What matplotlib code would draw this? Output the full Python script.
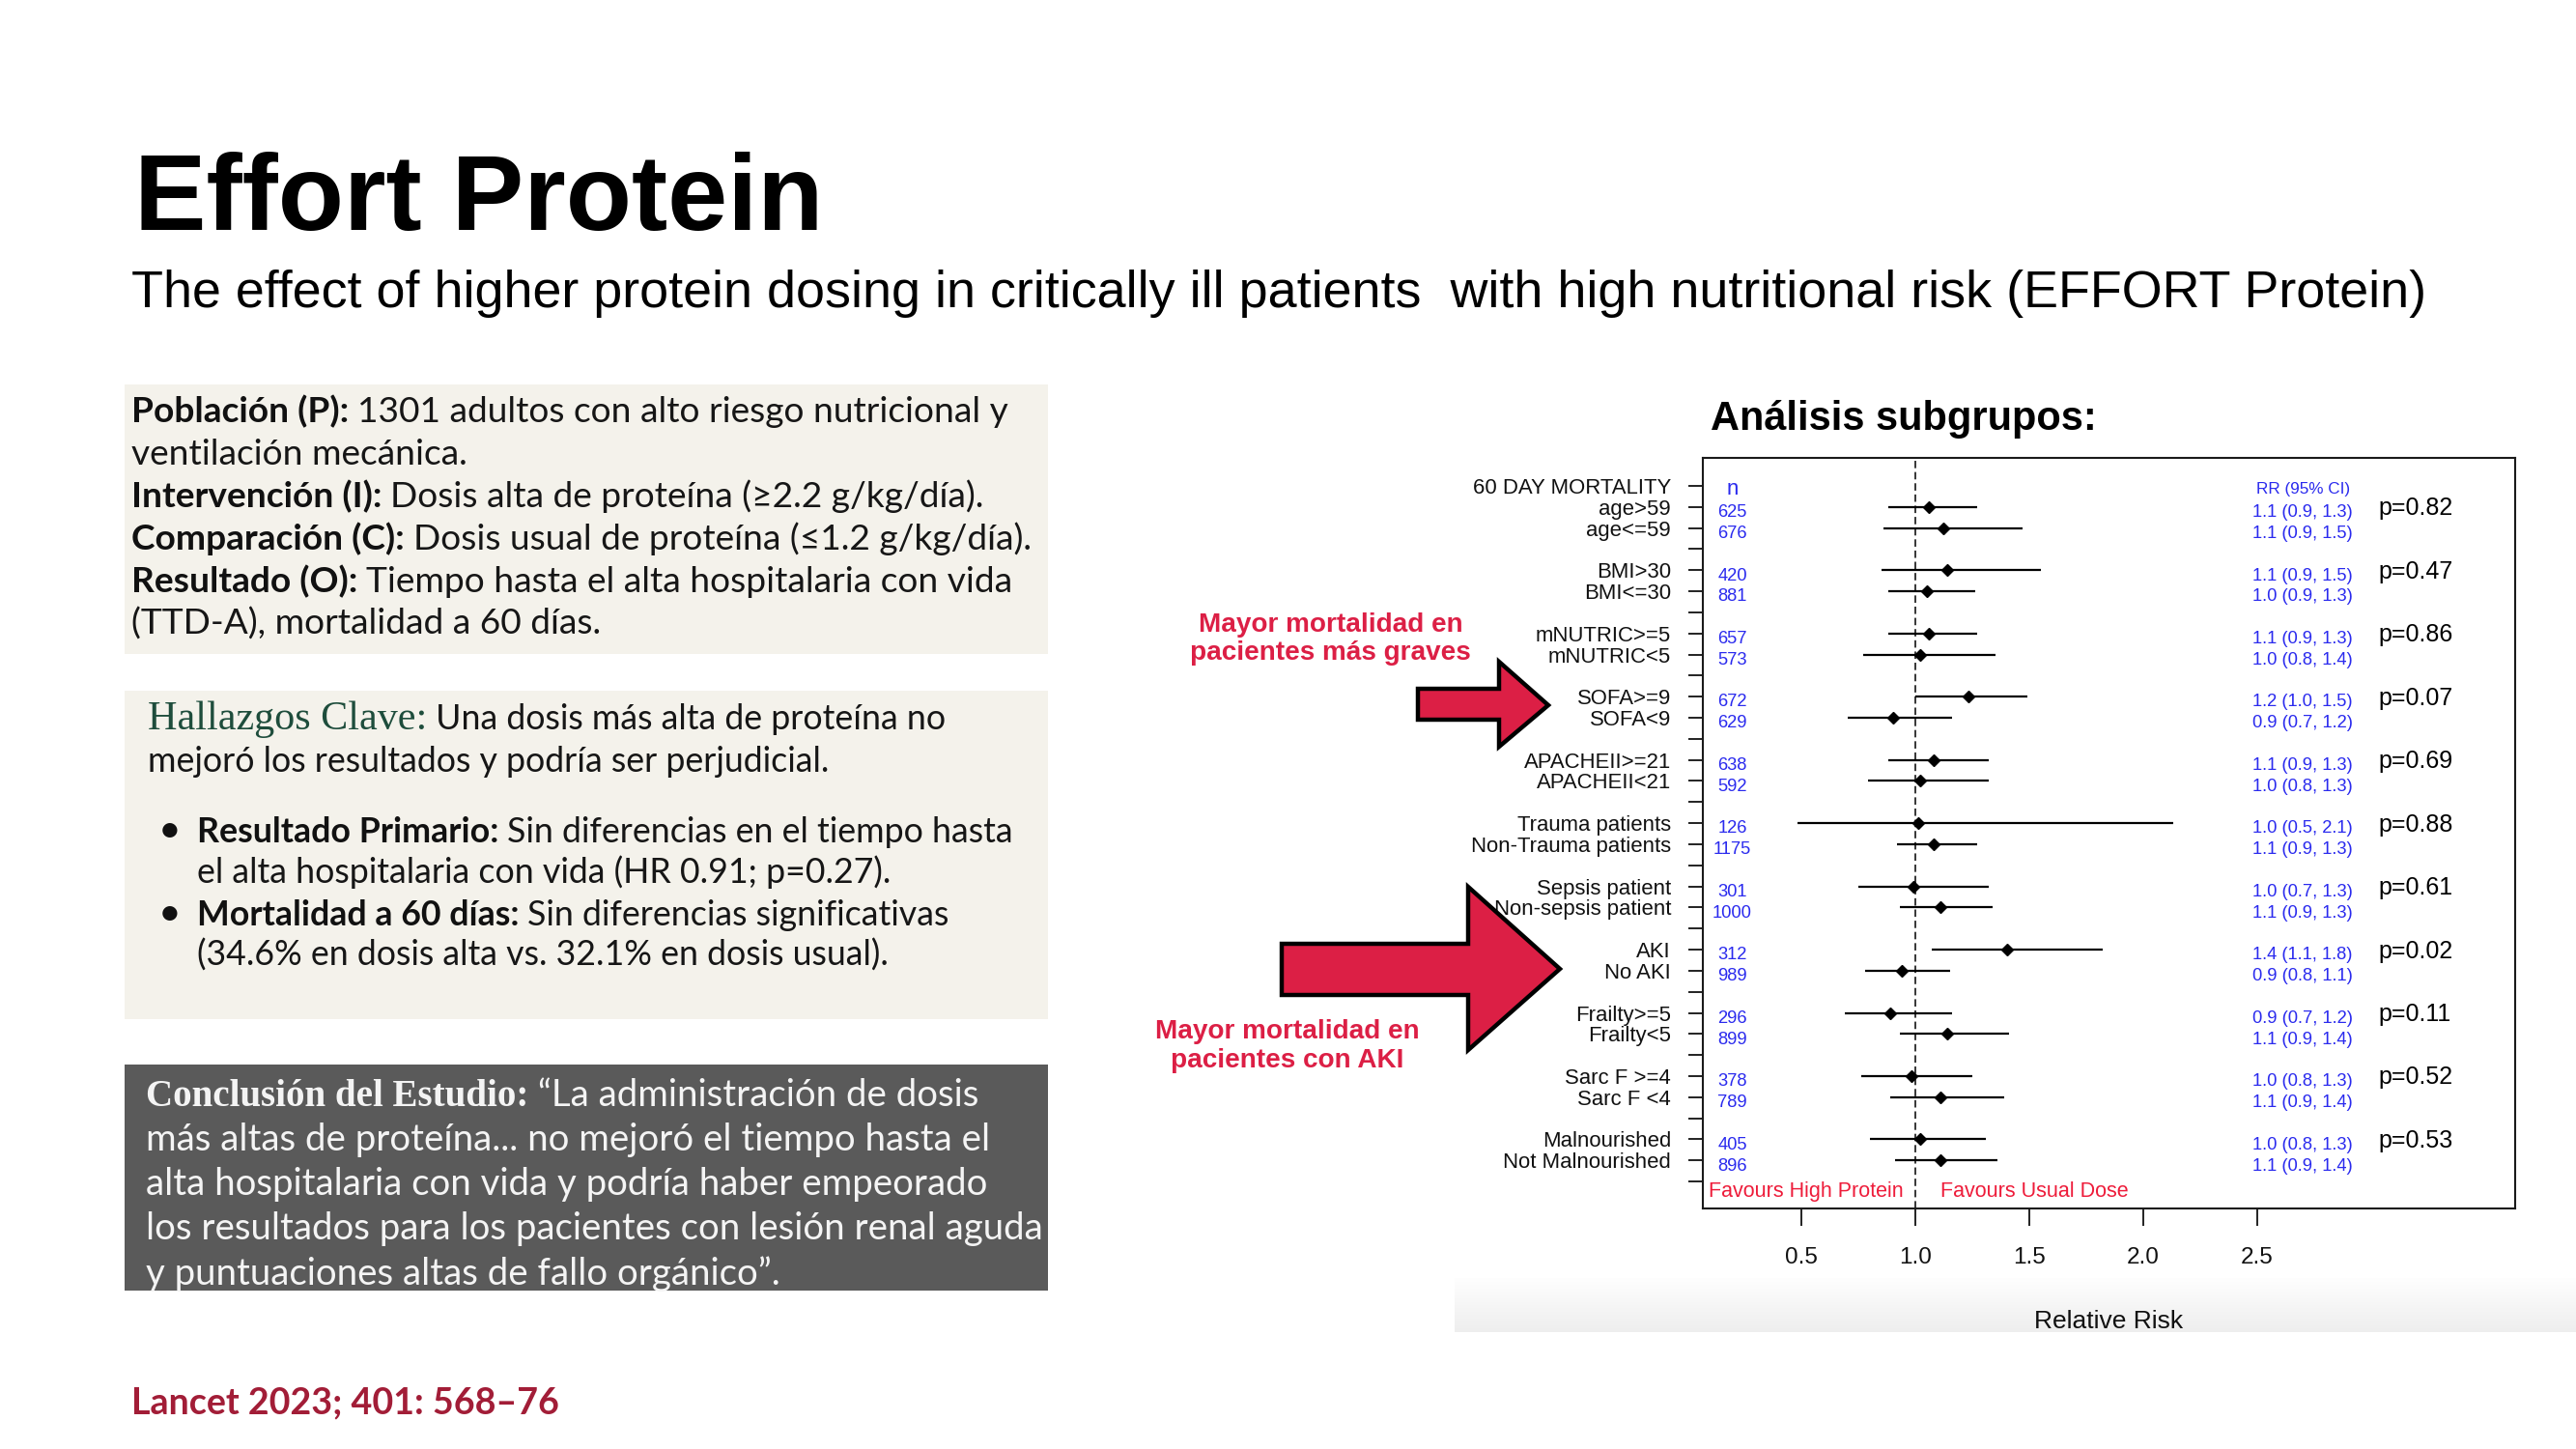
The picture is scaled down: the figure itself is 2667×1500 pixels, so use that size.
import matplotlib
matplotlib.use('Agg')
import matplotlib.pyplot as plt
import numpy as np
from matplotlib.patches import Rectangle, Polygon
from matplotlib.colors import LinearSegmentedColormap

# ---------------- data ----------------
header_label = "60 DAY MORTALITY"
subgroups = ["age>59", "age<=59", "BMI>30", "BMI<=30", "mNUTRIC>=5", "mNUTRIC<5",
             "SOFA>=9", "SOFA<9", "APACHEII>=21", "APACHEII<21",
             "Trauma patients", "Non-Trauma patients", "Sepsis patient", "Non-sepsis patient",
             "AKI", "No AKI", "Frailty>=5", "Frailty<5", "Sarc F >=4", "Sarc F <4",
             "Malnourished", "Not Malnourished"]
n_values = ["625", "676", "420", "881", "657", "573", "672", "629", "638", "592",
            "126", "1175", "301", "1000", "312", "989", "296", "899", "378", "789", "405", "896"]
rr_point = [1.06, 1.12, 1.14, 1.05, 1.06, 1.02, 1.23, 0.90, 1.08, 1.02,
            1.01, 1.08, 0.99, 1.11, 1.40, 0.94, 0.89, 1.14, 0.98, 1.11, 1.02, 1.11]
ci_low = [0.88, 0.86, 0.85, 0.88, 0.88, 0.77, 1.00, 0.70, 0.88, 0.79,
          0.48, 0.92, 0.75, 0.93, 1.07, 0.78, 0.69, 0.93, 0.76, 0.89, 0.80, 0.91]
ci_high = [1.27, 1.47, 1.55, 1.26, 1.27, 1.35, 1.49, 1.16, 1.32, 1.32,
           2.13, 1.27, 1.32, 1.34, 1.82, 1.15, 1.16, 1.41, 1.25, 1.39, 1.31, 1.36]
rr_text = ["1.1 (0.9, 1.3)", "1.1 (0.9, 1.5)", "1.1 (0.9, 1.5)", "1.0 (0.9, 1.3)",
           "1.1 (0.9, 1.3)", "1.0 (0.8, 1.4)", "1.2 (1.0, 1.5)", "0.9 (0.7, 1.2)",
           "1.1 (0.9, 1.3)", "1.0 (0.8, 1.3)", "1.0 (0.5, 2.1)", "1.1 (0.9, 1.3)",
           "1.0 (0.7, 1.3)", "1.1 (0.9, 1.3)", "1.4 (1.1, 1.8)", "0.9 (0.8, 1.1)",
           "0.9 (0.7, 1.2)", "1.1 (0.9, 1.4)", "1.0 (0.8, 1.3)", "1.1 (0.9, 1.4)",
           "1.0 (0.8, 1.3)", "1.1 (0.9, 1.4)"]
p_values = ["p=0.82", "p=0.47", "p=0.86", "p=0.07", "p=0.69", "p=0.88",
            "p=0.61", "p=0.02", "p=0.11", "p=0.52", "p=0.53"]
x_ticks = [0.5, 1.0, 1.5, 2.0, 2.5]
x_tick_labels = ["0.5", "1.0", "1.5", "2.0", "2.5"]

title = "Effort Protein"
subtitle = "The effect of higher protein dosing in critically ill patients  with high nutritional risk (EFFORT Protein)"

# ---------------- setup ----------------
W, H = 2667, 1500
fig = plt.figure(figsize=(26.67, 15), dpi=100)
fig.patch.set_facecolor('white')
bg = fig.add_axes([0, 0, 1, 1])
bg.axis('off')
R = fig.canvas.get_renderer()

SANS = ['Liberation Sans', 'DejaVu Sans']
BODY = ['Lato', 'DejaVu Sans']
SERIF = ['Liberation Serif', 'DejaVu Serif']
CRIMSON = '#DC1F45'
BLUE = '#2A2AEE'
RED = '#EE1C3A'


def _kw(st, size):
    return dict(fontsize=size * st.get('k', 1.0), family=st.get('family', BODY),
                fontweight=st.get('weight', 'normal'), color=st.get('color', '#151515'),
                fontstyle=st.get('style', 'normal'))


def tw(s, **kw):
    t = bg.text(0, 0, s, **kw)
    w = t.get_window_extent(R).width
    t.remove()
    return w


def adv(s, **kw):
    return tw('|' + s + '|', **kw) - tw('||', **kw)


def parts_width(parts, size):
    return sum(adv(s, **_kw(st, size)) for s, st in parts)


def fit(parts, target, base=20.0):
    return base * target / parts_width(parts, base)


def rich(ax, x, y, parts, size, clip=None, zorder=3):
    for s, st in parts:
        kw = _kw(st, size)
        t = ax.text(x, y, s, va='baseline', ha='left', zorder=zorder, **kw)
        if clip is not None:
            t.set_clip_path(clip)
        x += adv(s, **kw)


# background gradient band (screenshot bottom)
grad = np.linspace(0, 1, 60)[:, None] * np.ones((1, 4))
cm = LinearSegmentedColormap.from_list('band', ['#fefefe', '#eeeeee'])
bg.imshow(grad, extent=[1506, 2667, 1379, 1323], cmap=cm, aspect='auto', zorder=0,
          interpolation='bilinear')
bg.set_xlim(0, W)
bg.set_ylim(H, 0)

# ---------------- title ----------------
T = {'family': SANS, 'weight': 'bold', 'color': 'black'}
ts = fit([(title, T)], 714)
rich(bg, 139, 238, [(title, T)], ts)
S = {'family': SANS, 'color': 'black'}
ss = fit([(subtitle, S)], 2373)
rich(bg, 136, 318, [(subtitle, S)], ss)

# ---------------- left boxes ----------------
BEIGE = '#F4F2EB'
bg.add_patch(Rectangle((129, 398), 956, 279, facecolor=BEIGE, edgecolor='none', zorder=1))
bg.add_patch(Rectangle((129, 715), 956, 340, facecolor=BEIGE, edgecolor='none', zorder=1))
box3 = Rectangle((129, 1102), 956, 234, facecolor='#5A5A5A', edgecolor='none', zorder=1)
bg.add_patch(box3)

B = {'weight': 'bold', 'color': '#111111'}
N = {'color': '#161616'}
box1 = [
    [("Población (P): ", B), ("1301 adultos con alto riesgo nutricional y", N)],
    [("ventilación mecánica.", N)],
    [("Intervención (I): ", B), ("Dosis alta de proteína (≥2.2 g/kg/día).", N)],
    [("Comparación (C): ", B), ("Dosis usual de proteína (≤1.2 g/kg/día).", N)],
    [("Resultado (O): ", B), ("Tiempo hasta el alta hospitalaria con vida", N)],
    [("(TTD-A), mortalidad a 60 días.", N)],
]
b1y = [437, 481, 525, 569, 613, 657]
s1 = fit(box1[0], 910)
for parts, y in zip(box1, b1y):
    rich(bg, 136, y, parts, s1)

G = {'family': SERIF, 'color': '#1E4D3C'}
bul = [
    [("Resultado Primario: ", B), ("Sin diferencias en el tiempo hasta", N)],
    [("el alta hospitalaria con vida (HR 0.91; p=0.27).", N)],
    [("Mortalidad a 60 días: ", B), ("Sin diferencias significativas", N)],
    [("(34.6% en dosis alta vs. 32.1% en dosis usual).", N)],
]
s2 = fit(bul[0], 848)
hz = fit([("Hallazgos Clave:", G)], 289)
rich(bg, 153, 755, [("Hallazgos Clave:", dict(G, k=hz / s2)), (" Una dosis más alta de proteína no", N)], s2)
rich(bg, 153, 799, [("mejoró los resultados y podría ser perjudicial.", N)], s2)
for parts, y in zip(bul, [872, 914, 958, 1000]):
    rich(bg, 204, y, parts, s2)
for y in [872, 958]:
    bg.text(176, y, "•", fontsize=s2 * 1.15, family=BODY, color='#111111', va='baseline',
            ha='center', zorder=3)

WH = {'color': '#F4F4F4'}
CS = {'family': SERIF, 'weight': 'bold', 'color': '#F4F4F4'}
box3_lines = [
    [(" “La administración de dosis", WH)],
    [("más altas de proteína... no mejoró el tiempo hasta el", WH)],
    [("alta hospitalaria con vida y podría haber empeorado", WH)],
    [("los resultados para los pacientes con lesión renal aguda", WH)],
    [("y puntuaciones altas de fallo orgánico”.", WH)],
]
s3 = fit(box3_lines[3], 927)
cz = fit([("Conclusión del Estudio:", CS)], 396)
box3_lines[0] = [("Conclusión del Estudio:", dict(CS, k=cz / s3))] + box3_lines[0]
for parts, y in zip(box3_lines, [1145, 1191, 1237, 1283, 1330]):
    rich(bg, 151, y, parts, s3, clip=box3)

L = {'weight': 'bold', 'color': '#A21D37'}
ls = fit([("Lancet 2023; 401: 568–76", L)], 442)
rich(bg, 136, 1463, [("Lancet 2023; 401: 568–76", L)], ls)

# ---------------- forest plot ----------------
AS = {'family': SANS, 'weight': 'bold', 'color': 'black'}
asz = fit([("Análisis subgrupos:", AS)], 398)
rich(bg, 1771, 445, [("Análisis subgrupos:", AS)], asz)

ax = fig.add_axes([1763 / W, 1 - 1251 / H, 841 / W, 777 / H])
ax.set_facecolor('none')
rows = []
labels = [header_label]
for g in range(len(subgroups) // 2):
    rows += [1 + 3 * g, 2 + 3 * g]
    labels += [subgroups[2 * g], subgroups[2 * g + 1], ""]
rows = np.array(rows)

ax.axvline(1.0, color='black', lw=1.1, ls=(0, (5, 2.6)), zorder=1)
ax.hlines(rows, ci_low, ci_high, color='black', lw=1.6, zorder=2)
ax.plot(rr_point, rows, 'D', color='black', ms=6.3, zorder=3)

for r, nv, rt in zip(rows, n_values, rr_text):
    ax.text(0.195, r + 0.47, nv, color=BLUE, fontsize=13.2, family=SANS, ha='center', va='baseline')
    ax.text(2.70, r + 0.47, rt, color=BLUE, fontsize=13.2, family=SANS, ha='center', va='baseline')
for g, pv in enumerate(p_values):
    ax.text(3.03, 1 + 3 * g + 0.39, pv, color='black', fontsize=18, family=SANS, ha='left', va='baseline')
ax.text(0.195, 0.4, "n", color=BLUE, fontsize=16, family=SANS, ha='center', va='baseline')
ax.text(2.70, 0.36, "RR (95% CI)", color=BLUE, fontsize=12.3, family=SANS, ha='center', va='baseline')
ax.text(0.09, 33.75, "Favours High Protein", color=RED, fontsize=15.5, family=SANS, ha='left', va='baseline')
ax.text(1.109, 33.75, "Favours Usual Dose", color=RED, fontsize=15.5, family=SANS, ha='left', va='baseline')

ax.set_xlim(0.066, 3.632)
ax.set_ylim(34.28, -1.33)
ax.set_yticks(range(len(labels)))
ax.set_yticklabels(labels, fontsize=15.9, family=SANS, color='#111111')
ax.set_xticks(x_ticks)
ax.set_xticklabels(x_tick_labels, fontsize=17.5, family=SANS, color='#111111')
ax.tick_params(axis='y', length=10.8, width=1.3, pad=13, direction='out', color='#111111')
ax.tick_params(axis='x', length=13, width=1.3, pad=16, direction='out', color='#111111')
ax.set_xlabel("Relative Risk", fontsize=19, family=SANS, labelpad=31, color='#111111')
for sp in ax.spines.values():
    sp.set_linewidth(1.5)
    sp.set_color('#1a1a1a')

# ---------------- overlay: arrows and notes ----------------
ov = fig.add_axes([0, 0, 1, 1])
ov.axis('off')
ov.set_xlim(0, W)
ov.set_ylim(H, 0)
small = [(1468, 713), (1552, 713), (1552, 685), (1603, 730), (1552, 773), (1552, 745), (1468, 745)]
big = [(1327, 977), (1520, 977), (1520, 918), (1615, 1003), (1520, 1087), (1520, 1030), (1327, 1030)]
for pts in (small, big):
    ov.add_patch(Polygon(pts, closed=True, facecolor=CRIMSON, edgecolor='black', lw=3.2,
                         joinstyle='miter', zorder=5))

M = {'family': SANS, 'weight': 'bold', 'color': CRIMSON}
ms_ = fit([("pacientes más graves", M)], 289)
for txt, x, y in [("Mayor mortalidad en", 1377.5, 654), ("pacientes más graves", 1377.5, 683),
                  ("Mayor mortalidad en", 1333, 1075), ("pacientes con AKI", 1333, 1105)]:
    ov.text(x, y, txt, ha='center', va='baseline', fontsize=ms_, family=SANS,
            fontweight='bold', color=CRIMSON, zorder=6)

fig.savefig('out.png', dpi=100, facecolor='white')
